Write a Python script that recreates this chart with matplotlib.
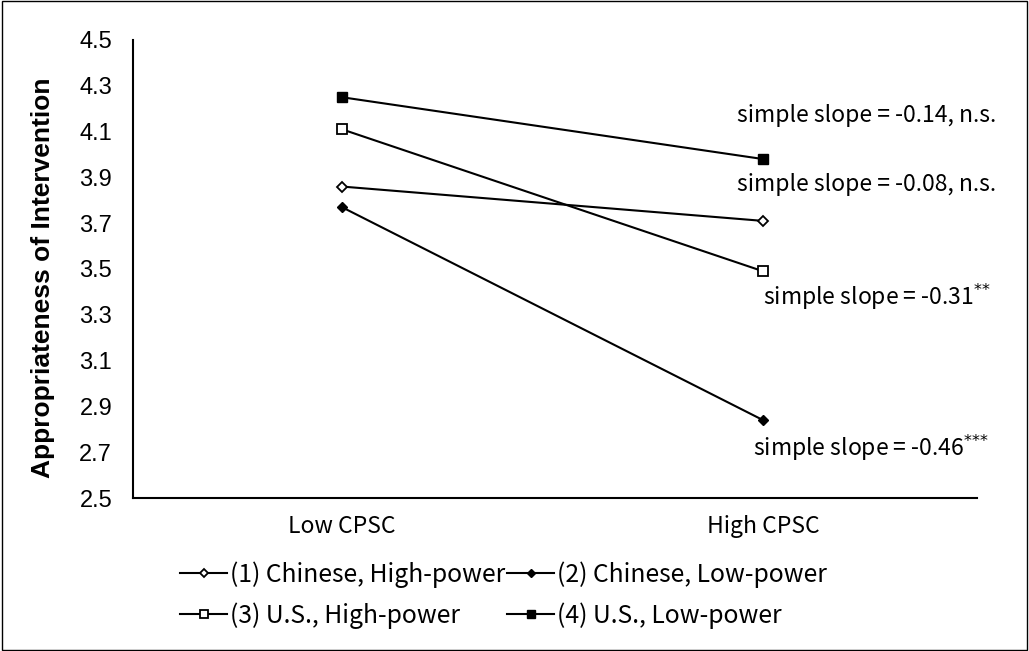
import matplotlib
matplotlib.use('Agg')
import matplotlib.pyplot as plt

# Data
categories = ['Low CPSC', 'High CPSC']
chinese_high = [3.86, 3.71]
chinese_low = [3.77, 2.84]
us_high = [4.11, 3.49]
us_low = [4.25, 3.98]
series_labels = ['(1) Chinese, High-power', '(2) Chinese, Low-power',
                 '(3) U.S., High-power', '(4) U.S., Low-power']
slope_texts = ['simple slope = -0.14, n.s.', 'simple slope = -0.08, n.s.',
               'simple slope = -0.31$^{{*}{*}}$', 'simple slope = -0.46$^{{*}{*}{*}}$']
y_ticks = [2.5, 2.7, 2.9, 3.1, 3.3, 3.5, 3.7, 3.9, 4.1, 4.3, 4.5]

plt.rcParams['font.family'] = ['Liberation Sans', 'DejaVu Sans']
cjk = ['Noto Sans CJK SC', 'DejaVu Sans']

fig = plt.figure(figsize=(10.29, 6.51), dpi=100)
ax = fig.add_axes([0.1293, 0.235, 0.8202, 0.7036])

x = [0, 1]
h1, = ax.plot(x, chinese_high, color='black', lw=1.5, marker='D', ms=5,
              mfc='white', mec='black', mew=1.3)
h2, = ax.plot(x, chinese_low, color='black', lw=1.5, marker='D', ms=5,
              mfc='black', mec='black')
h3, = ax.plot(x, us_high, color='black', lw=1.5, marker='s', ms=6.5,
              mfc='white', mec='black', mew=1.3)
h4, = ax.plot(x, us_low, color='black', lw=1.5, marker='s', ms=7,
              mfc='black', mec='black')

ax.set_xlim(-0.496, 1.508)
ax.set_ylim(2.5, 4.5)
ax.set_yticks(y_ticks)
ax.set_yticklabels([f'{v:.1f}' for v in y_ticks])
ax.set_xticks(x)
ax.set_xticklabels(categories, family=cjk, fontsize=16.5)
ax.tick_params(axis='both', length=0)
ax.tick_params(axis='y', labelsize=17, pad=15)
ax.tick_params(axis='x', pad=12)

for side in ['top', 'right']:
    ax.spines[side].set_visible(False)
for side in ['left', 'bottom']:
    ax.spines[side].set_linewidth(1.5)

ax.set_ylabel('Appropriateness of Intervention', fontsize=19, fontweight='bold')
ax.yaxis.set_label_coords(-0.0924, 0.48)

# slope annotations
slope_pos = [(0.938, 4.17), (0.938, 3.87), (1.0, 3.38), (0.976, 2.72)]
for (tx, ty), t in zip(slope_pos, slope_texts):
    ax.text(tx, ty, t, fontsize=16.5, va='center', ha='left', family=cjk)

# legend filled row by row: (1) (2) / (3) (4)
leg = fig.legend([h1, h3, h2, h4],
                 [series_labels[0], series_labels[2], series_labels[1], series_labels[3]],
                 ncol=2, loc='upper left', bbox_to_anchor=(0.175, 0.138), frameon=False,
                 prop={'family': cjk, 'size': 17.8}, handlelength=1.9, handletextpad=0.1,
                 columnspacing=0.1, labelspacing=0.6, borderpad=0, borderaxespad=0,
                 markerscale=0.8)

fig.add_artist(plt.Rectangle((0.002, 0.002), 0.996, 0.996, transform=fig.transFigure,
                             fill=False, lw=1, color='black'))

fig.savefig('out.png', dpi=100)
